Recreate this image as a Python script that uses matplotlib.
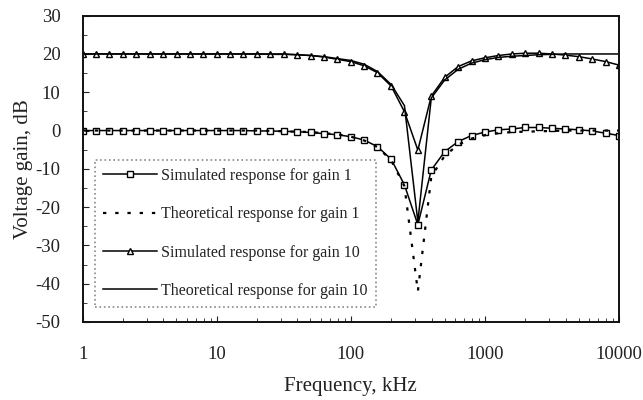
import matplotlib
matplotlib.use("Agg")
import matplotlib.pyplot as plt
from matplotlib.ticker import FixedLocator, LogLocator, NullFormatter

plt.rcParams['font.family'] = ['Liberation Serif', 'DejaVu Serif']
plt.rcParams['axes.unicode_minus'] = False

# frequency points, kHz (10 per decade)
freq = [1, 1.26, 1.58, 2.0, 2.51, 3.16, 3.98, 5.01, 6.31, 7.94,
        10, 12.6, 15.8, 20.0, 25.1, 31.6, 39.8, 50.1, 63.1, 79.4,
        100, 126, 158, 200, 251, 316, 398, 501, 631, 794,
        1000, 1259, 1585, 1995, 2512, 3162, 3981, 5012, 6310, 7943,
        10000]

sim_g1 = [0, 0, 0, 0, 0, 0, 0, 0, 0, 0,
          0, 0, 0, -0.1, -0.1, -0.2, -0.3, -0.5, -0.8, -1.1,
          -1.6, -2.5, -4.2, -7.5, -14.2, -24.6, -10.3, -5.5, -2.9, -1.3,
          -0.4, 0.2, 0.4, 0.8, 0.8, 0.6, 0.4, 0.2, -0.1, -0.7,
          -1.3]

theo_g1 = [0, 0, 0, 0, 0, 0, 0, 0, 0, 0,
           0, 0, 0, 0, -0.1, -0.2, -0.3, -0.4, -0.7, -1.0,
           -1.6, -2.6, -4.3, -7.8, -14.5, -42, -12.0, -6.6, -3.7, -2.1,
           -1.2, -0.7, -0.4, -0.3, -0.2, -0.1, 0, 0, 0, 0,
           0]

sim_g10 = [20, 20, 20, 20, 20, 20, 20, 20, 20, 20,
           20, 20, 20, 20, 19.9, 19.9, 19.8, 19.6, 19.2, 18.6,
           18.0, 16.9, 15.1, 11.6, 4.9, -5.1, 9.0, 13.9, 16.7, 18.2,
           19.0, 19.6, 20.0, 20.2, 20.2, 20.0, 19.7, 19.3, 18.7, 18.0,
           17.1]

theo_g10 = [20, 20, 20, 20, 20, 20, 20, 20, 20, 20,
            20, 20, 20, 20, 20, 20, 19.8, 19.6, 19.3, 18.8,
            18.3, 17.3, 15.4, 12.0, 6.5, -23.8, 8.5, 13.2, 16.0, 17.6,
            18.5, 19.1, 19.4, 19.6, 19.8, 19.9, 20, 20, 20, 20,
            20]

fig = plt.figure(figsize=(6.43, 4.0), dpi=100)
ax = fig.add_axes([0.1286, 0.195, 0.8341, 0.7658])

ax.plot(freq, sim_g1, color='black', lw=1.1, marker='s', ms=5, mfc='white',
        mew=1.0, label='Simulated response for gain 1')
ax.plot(freq, theo_g1, color='black', lw=1.6, ls=(0, (1.5, 4)),
        label='Theoretical response for gain 1')
ax.plot(freq, sim_g10, color='black', lw=1.1, marker='^', ms=5, mfc='white',
        mew=1.0, label='Simulated response for gain 10')
ax.plot(freq, theo_g10, color='black', lw=1.1,
        label='Theoretical response for gain 10')

ax.set_xscale('log')
ax.set_xlim(1, 10000)
ax.set_ylim(-50, 30)
ax.set_xticks([1, 10, 100, 1000, 10000])
ax.set_xticklabels(['1', '10', '100', '1000', '10000'])
ax.xaxis.set_minor_locator(LogLocator(base=10, subs=range(2, 10)))
ax.xaxis.set_minor_formatter(NullFormatter())
ax.set_yticks(range(-50, 31, 10))
ax.yaxis.set_minor_locator(FixedLocator(range(-45, 30, 10)))

ax.tick_params(which='both', direction='in', labelsize=13.5, colors='#222222')
ax.tick_params(axis='x', which='major', length=4, width=0.8, pad=17)
ax.tick_params(axis='x', which='minor', length=3, width=0.6)
ax.tick_params(axis='y', which='major', length=4, width=0.8, pad=16)
ax.tick_params(axis='y', which='minor', length=3, width=0.6)
for s in ax.spines.values():
    s.set_linewidth(1.4)
    s.set_color('#111111')

ax.set_xlabel('Frequency, kHz', fontsize=15, color='#222222', labelpad=10)
ax.set_ylabel('Voltage gain, dB', fontsize=15, color='#222222', labelpad=2)

leg = ax.legend(loc='lower left', bbox_to_anchor=(0.023, 0.049), borderaxespad=0,
                fontsize=11.5, handlelength=3.4, handletextpad=0.25,
                labelspacing=1.4, borderpad=0.5, fancybox=False, framealpha=1,
                edgecolor='#888888')
leg.get_frame().set_linestyle(':')
leg.get_frame().set_linewidth(1.2)
for t in leg.get_texts():
    t.set_color('#222222')

fig.savefig('out.png', dpi=100)
